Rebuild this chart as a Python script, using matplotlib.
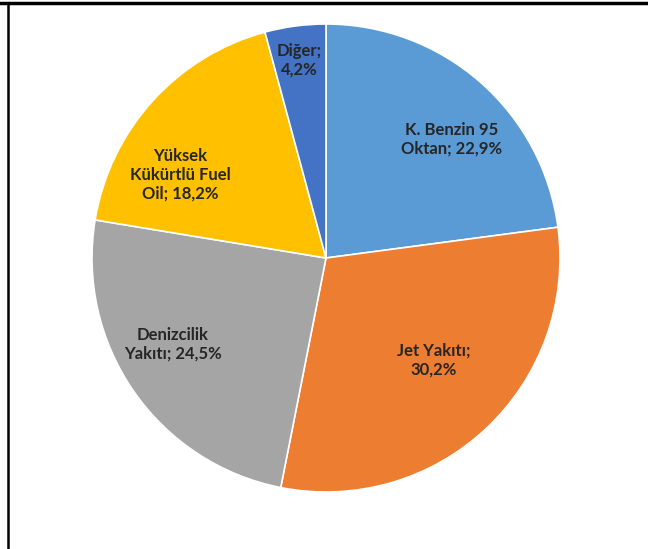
import numpy as np
import matplotlib
matplotlib.use('Agg')
from matplotlib import pyplot as plt
from matplotlib.lines import Line2D

categories = ['K. Benzin 95 Oktan', 'Jet Yakıtı', 'Denizcilik Yakıtı', 'Yüksek Kükürtlü Fuel Oil', 'Diğer']
shares = [22.9, 30.2, 24.5, 18.2, 4.2]
colors = ['#5B9BD5', '#ED7D31', '#A5A5A5', '#FFC000', '#4472C4']

# label text as shown in the chart (Excel style "name; value%")
texts = ['K. Benzin 95\nOktan; 22,9%', 'Jet Yakıtı;\n30,2%', 'Denizcilik\nYakıtı; 24,5%',
         'Yüksek\nKükürtlü Fuel\nOil; 18,2%', 'Diğer;\n4,2%']
# label anchor positions (fraction of radius)
label_pos = [(0.538, 0.509), (0.462, -0.436), (-0.654, -0.367), (-0.624, 0.355), (-0.115, 0.846)]

fig = plt.figure(figsize=(6.48, 5.49), dpi=100)
ax = fig.add_axes([92 / 648, 57 / 549, 468 / 648, 468 / 549])
ax.pie(shares, colors=colors, startangle=90, counterclock=False, radius=1,
       wedgeprops=dict(edgecolor='white', linewidth=1.2))
for t, (x, y) in zip(texts, label_pos):
    ax.text(x, y, t, ha='center', va='center', fontsize=12, fontweight='bold',
            family='Lato', color='#262626', linespacing=1.2)
ax.set_xlim(-1, 1)
ax.set_ylim(-1, 1)
ax.set_aspect('equal')
ax.axis('off')

# frame lines from the original screenshot
fig.add_artist(Line2D([0, 1], [1 - 2.5 / 549, 1 - 2.5 / 549], color='black', lw=2.5, transform=fig.transFigure))
fig.add_artist(Line2D([7.5 / 648, 7.5 / 648], [0, 1 - 2.5 / 549], color='black', lw=1.8, transform=fig.transFigure))

fig.savefig('out.png', dpi=100)
plt.close()
